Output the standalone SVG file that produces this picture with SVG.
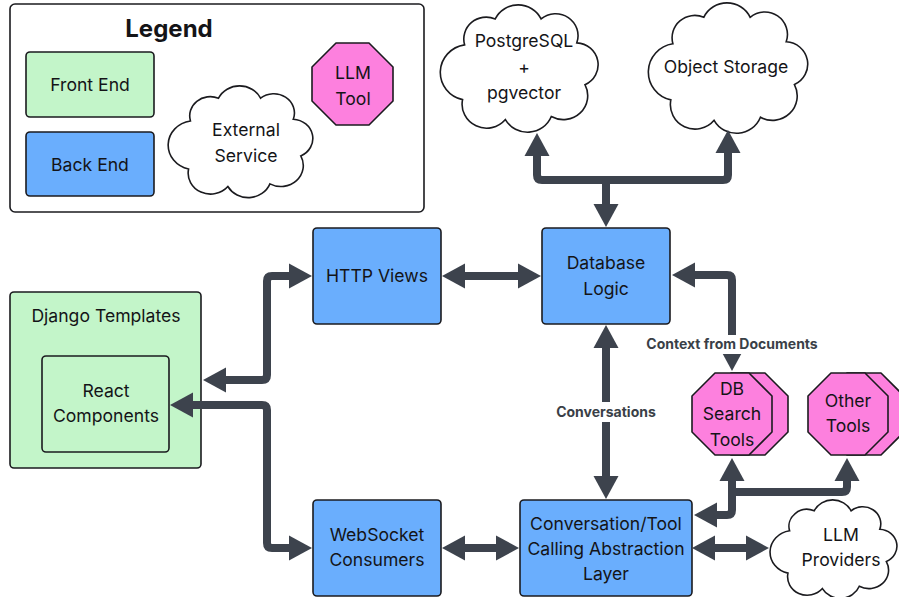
<svg xmlns="http://www.w3.org/2000/svg" xmlns:xlink="http://www.w3.org/1999/xlink" width="899" height="597" viewBox="0 0 899 597">
<style>
  .box { stroke: #1b1b1f; stroke-width: 1.6; }
  .fe { fill: #c3f5c9; }
  .be { fill: #6aaefd; }
  .tool { fill: #fd80de; stroke: #1b1b1f; stroke-width: 1.6; stroke-linejoin: round; }
  .cloud { fill: #ffffff; stroke: #1b1b1f; stroke-width: 1.6; }
  text { font-family: Inter, "Noto Sans", "Liberation Sans", sans-serif; font-size: 17.6px; fill: #141417; text-anchor: middle; }
  .title { font-size: 24px; font-weight: 700; }
  .lbl { font-size: 14px; font-weight: 700; fill: #3a3f47; }
  .conn { fill: none; stroke: #3d434d; stroke-width: 8; stroke-linejoin: round; }
</style>
<defs>
  <marker id="ah" viewBox="0 -13 24 26" refX="1" refY="0" markerWidth="24" markerHeight="26" markerUnits="userSpaceOnUse" orient="auto-start-reverse">
    <path d="M0,-12.5 L23,0 L0,12.5 Z" fill="#3d434d"/>
  </marker>
  <path id="cloudshape" vector-effect="non-scaling-stroke" d="M30,40 A22,22 0 0 1 60,14 A25,25 0 0 1 105,14 A22,22 0 0 1 140,38 A22,22 0 0 1 148,80 A24,24 0 0 1 115,112 A25,25 0 0 1 70,115 A24,24 0 0 1 28,95 A28,28 0 0 1 30,40 Z"/>
</defs>

<rect width="899" height="597" fill="#ffffff"/>

<g id="legend">
  <rect x="10" y="4" width="414" height="208" rx="5" fill="#ffffff" class="box"/>
  <text x="169" y="37" class="title">Legend</text>
  <rect x="26" y="52" width="128" height="65" rx="4" class="box fe"/>
  <text x="90" y="91">Front End</text>
  <rect x="26" y="132" width="128" height="64" rx="4" class="box be"/>
  <text x="90" y="171">Back End</text>
  <use xlink:href="#cloudshape" class="cloud" transform="translate(162.4,86) scale(0.935,0.874)"/>
  <text x="246" y="136">External</text>
  <text x="246" y="162">Service</text>
  <polygon class="tool" points="336,43 369,43 393,67 393,101 369,125 336,125 312,101 312,67"/>
  <text x="353" y="79">LLM</text>
  <text x="353" y="105">Tool</text>
</g>

<g id="postgres">
  <use xlink:href="#cloudshape" class="cloud" transform="translate(434,5) scale(1.02,0.996)"/>
  <text x="524" y="47">PostgreSQL</text>
  <text x="524" y="74">+</text>
  <text x="524" y="99">pgvector</text>
</g>

<g id="objectstorage">
  <use xlink:href="#cloudshape" class="cloud" transform="translate(642,3) scale(1.03,1.02)"/>
  <text x="726" y="73">Object Storage</text>
</g>

<g id="database-logic">
  <rect x="542" y="228" width="128" height="96" rx="4" class="box be"/>
  <text x="606" y="269">Database</text>
  <text x="606" y="295">Logic</text>
</g>

<g id="http-views">
  <rect x="313" y="228" width="128" height="96" rx="4" class="box be"/>
  <text x="377" y="282">HTTP Views</text>
</g>

<g id="django-templates">
  <rect x="10" y="292" width="191" height="176" rx="4" class="box fe"/>
  <text x="106" y="322">Django Templates</text>
</g>

<g id="react-components">
  <rect x="42" y="356" width="127" height="96" rx="4" class="box fe"/>
  <text x="106" y="397">React</text>
  <text x="106" y="422">Components</text>
</g>

<g id="db-search-tools">
  <polygon class="tool" points="731,373 765,373 788,396 788,432 765,455 731,455 708,432 708,396"/>
  <polygon class="tool" points="715,373 749,373 772,396 772,432 749,455 715,455 692,432 692,396"/>
  <text x="732" y="395">DB</text>
  <text x="732" y="420">Search</text>
  <text x="732" y="446">Tools</text>
</g>

<g id="other-tools">
  <polygon class="tool" points="847,373 881,373 904,396 904,432 881,455 847,455 824,432 824,396"/>
  <polygon class="tool" points="831,373 865,373 888,396 888,432 865,455 831,455 808,432 808,396"/>
  <text x="848" y="407">Other</text>
  <text x="848" y="432">Tools</text>
</g>

<g id="websocket-consumers">
  <rect x="313" y="500" width="128" height="96" rx="4" class="box be"/>
  <text x="377" y="541">WebSocket</text>
  <text x="377" y="566">Consumers</text>
</g>

<g id="conversation-layer">
  <rect x="520" y="500" width="172" height="96" rx="4" class="box be"/>
  <text x="606" y="530">Conversation/Tool</text>
  <text x="606" y="555">Calling Abstraction</text>
  <text x="606" y="580">Layer</text>
</g>

<g id="llm-providers">
  <use xlink:href="#cloudshape" class="cloud" transform="translate(765,500) scale(0.82,0.77)"/>
  <text x="841" y="541">LLM</text>
  <text x="841" y="566">Providers</text>
</g>

<g id="connectors">
  <path class="conn" d="M606,205 L606,182" marker-start="url(#ah)"/>
  <path class="conn" d="M537,155 L537,175 Q537,180 542,180 L723,180 Q728,180 728,175 L728,152" marker-start="url(#ah)" marker-end="url(#ah)"/>
  <path class="conn" d="M464,276 L519,276" marker-start="url(#ah)" marker-end="url(#ah)"/>
  <path class="conn" d="M225,380 L262,380 Q267,380 267,375 L267,281 Q267,276 272,276 L290,276" marker-start="url(#ah)" marker-end="url(#ah)"/>
  <path class="conn" d="M192,405 L262,405 Q267,405 267,410 L267,543 Q267,548 272,548 L290,548" marker-start="url(#ah)" marker-end="url(#ah)"/>
  <path class="conn" d="M464,548 L497,548" marker-start="url(#ah)" marker-end="url(#ah)"/>
  <path class="conn" d="M714,548 L747,548" marker-start="url(#ah)" marker-end="url(#ah)"/>
  <path class="conn" d="M606,347 L606,477" marker-start="url(#ah)" marker-end="url(#ah)"/>
  <path class="conn" d="M694,275 L727,275 Q732,275 732,280 L732,349" marker-start="url(#ah)" marker-end="url(#ah)"/>
  <path class="conn" d="M716,515 L727,515 Q732,515 732,510 L732,480" marker-start="url(#ah)" marker-end="url(#ah)"/>
  <path class="conn" d="M732,492 L842,492 Q847,492 847,487 L847,480" marker-end="url(#ah)"/>
  <rect x="552" y="402" width="108" height="20" fill="#ffffff"/>
  <text x="606" y="417" class="lbl">Conversations</text>
  <rect x="642" y="335" width="180" height="19" fill="#ffffff"/>
  <text x="732" y="349" class="lbl">Context from Documents</text>
</g>
</svg>
